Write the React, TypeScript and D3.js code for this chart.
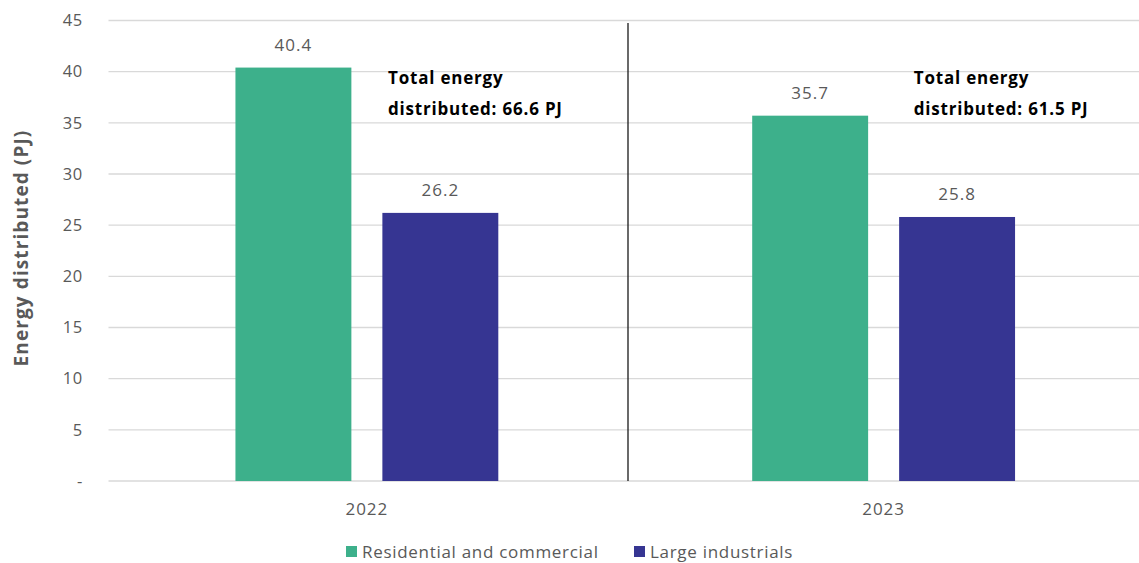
import React from "react";
import * as d3 from "d3";

const categories = ["2022", "2023"];
const seriesNames = ["Residential and commercial", "Large industrials"];
const residential = [40.4, 35.7];
const industrial = [26.2, 25.8];
const totals = ["66.6", "61.5"];
const yTicks = [0, 5, 10, 15, 20, 25, 30, 35, 40, 45];
const colors = ["#3DB08B", "#363592"];

const W = 1139;
const H = 563;
const FONT = "'Open Sans', 'Noto Sans', sans-serif";

export default function App() {
  const left = 108.5;
  const right = 1142;
  const top = 20.5;
  const bottom = 481;
  const x = d3.scaleBand<string>().domain(categories).range([left, right]).padding(0);
  const inner = d3
    .scaleBand<number>()
    .domain([0, 1])
    .range([0, x.bandwidth()])
    .paddingInner(0.211)
    .paddingOuter(0.864);
  const y = d3.scaleLinear().domain([0, 45]).range([bottom, top]);
  const series = [residential, industrial];
  const annX = [279.5, 288.5];

  return (
    <svg width={W} height={H} style={{ display: "block", position: "absolute", left: 0, top: 0, background: "#fff" }}>
      {yTicks.map((t) => (
        <g key={t}>
          <line x1={left} x2={W} y1={y(t)} y2={y(t)} stroke="#d9d9d9" strokeWidth={1.3} />
          <text x={83} y={y(t)} dy="0.35em" textAnchor="end" fontFamily={FONT} fontSize={16.5} letterSpacing={0.7} fill="#595959">
            {t === 0 ? "-" : t}
          </text>
        </g>
      ))}
      <text
        transform={`translate(21,${248}) rotate(-90)`}
        textAnchor="middle"
        dy="0.35em"
        fontFamily={FONT}
        fontSize={19}
        letterSpacing={1.1}
        fontWeight={700}
        fill="#595959"
      >
        Energy distributed (PJ)
      </text>
      <line x1={628} x2={628} y1={23} y2={bottom} stroke="#1a1a1a" strokeWidth={1.3} />
      {categories.map((c, ci) => (
        <g key={c}>
          {series.map((s, si) => {
            const bx = (x(c) as number) + (inner(si) as number);
            return (
              <g key={si}>
                <rect x={bx} y={y(s[ci])} width={inner.bandwidth()} height={bottom - y(s[ci])} fill={colors[si]} />
                <text
                  x={bx + inner.bandwidth() / 2}
                  y={y(s[ci]) - 17}
                  textAnchor="middle"
                  fontFamily={FONT}
                  fontSize={17}
                  letterSpacing={1}
                  fill="#595959"
                >
                  {s[ci]}
                </text>
              </g>
            );
          })}
          <text x={(x(c) as number) + annX[ci]} y={84} fontFamily={FONT} fontSize={17} letterSpacing={0.8} fontWeight={700} fill="#000">
            Total energy
          </text>
          <text x={(x(c) as number) + annX[ci]} y={115} fontFamily={FONT} fontSize={17} letterSpacing={0.8} fontWeight={700} fill="#000">
            {`distributed: ${totals[ci]} PJ`}
          </text>
          <text
            x={(x(c) as number) + x.bandwidth() / 2}
            y={509}
            dy="0.35em"
            textAnchor="middle"
            fontFamily={FONT}
            fontSize={17}
            letterSpacing={1}
            fill="#595959"
          >
            {c}
          </text>
        </g>
      ))}
      {seriesNames.map((n, i) => {
        const lx = [346, 634][i];
        return (
          <g key={n}>
            <rect x={lx} y={546} width={11} height={11} fill={colors[i]} />
            <text x={lx + 16} y={552} dy="0.35em" fontFamily={FONT} fontSize={17} letterSpacing={0.7} fill="#595959">
              {n}
            </text>
          </g>
        );
      })}
    </svg>
  );
}
